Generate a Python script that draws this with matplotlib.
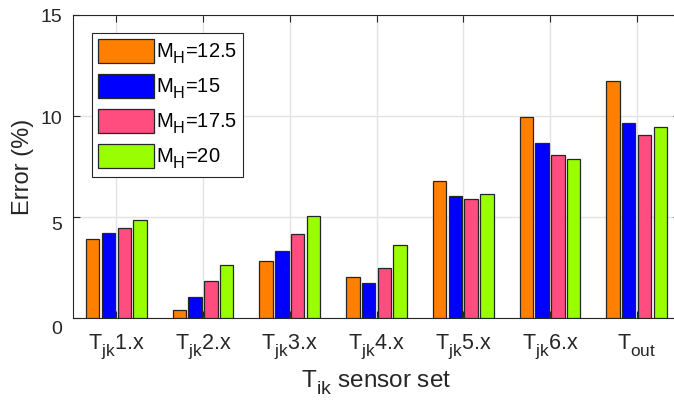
import matplotlib
matplotlib.use("Agg")
import matplotlib.pyplot as plt
import matplotlib._mathtext as _mt
from matplotlib.transforms import ScaledTranslation
import numpy as np

_mt.SHRINK_FACTOR = 0.8
_mt.FontConstantsBase.sub1 = 0.6

plt.rcParams['font.family'] = ['Liberation Sans', 'DejaVu Sans']
plt.rcParams['mathtext.fontset'] = 'custom'
plt.rcParams['mathtext.rm'] = 'Liberation Sans'
plt.rcParams['mathtext.it'] = 'Liberation Sans'
plt.rcParams['mathtext.bf'] = 'Liberation Sans:bold'

categories = [r'T$_\mathrm{jk}$1.x', r'T$_\mathrm{jk}$2.x', r'T$_\mathrm{jk}$3.x',
              r'T$_\mathrm{jk}$4.x', r'T$_\mathrm{jk}$5.x', r'T$_\mathrm{jk}$6.x',
              r'T$_\mathrm{out}$']
series_labels = [r'M$_\mathrm{H}$=12.5', r'M$_\mathrm{H}$=15',
                 r'M$_\mathrm{H}$=17.5', r'M$_\mathrm{H}$=20']
yticks = [0, 5, 10, 15]
mh_12_5 = [3.92, 0.38, 2.80, 2.01, 6.80, 9.94, 11.71]
mh_15 = [4.23, 1.04, 3.32, 1.71, 6.04, 8.68, 9.64]
mh_17_5 = [4.48, 1.81, 4.18, 2.46, 5.89, 8.08, 9.07]
mh_20 = [4.83, 2.61, 5.04, 3.63, 6.15, 7.86, 9.44]
colors = ['#FF8000', '#0000FF', '#FF4D80', '#99FF00']

fig = plt.figure(figsize=(6.74, 4.04), dpi=100)
ax = fig.add_axes([73/674, 1-318/404, (680-73)/674, (318-15)/404])

x = np.arange(1, len(categories)+1)
step = 0.182
width = 0.155
for i, (vals, c, lab) in enumerate(zip([mh_12_5, mh_15, mh_17_5, mh_20], colors, series_labels)):
    ax.bar(x + (i-1.5)*step, vals, width, color=c, edgecolor='#262626', linewidth=0.9,
           label=lab, zorder=3)

ax.set_xlim(0.5, 7.5)
ax.set_ylim(0, 15)
ax.set_yticks(yticks)
ax.set_xticks(x)
ax.set_xticklabels(categories)
ax.tick_params(axis='both', direction='in', length=5, width=0.8, colors='#262626',
               top=True, right=True)
ax.tick_params(axis='x', pad=11, labelsize=15.5)
ax.tick_params(axis='y', labelleft=False)
ax.grid(True, color='#E3E3E3', linewidth=1.0, zorder=0)
ax.set_axisbelow(True)
for s in ax.spines.values():
    s.set_color('#262626')
    s.set_linewidth(0.8)

# y tick labels, drawn as text with the small downward shifts seen in the reference
for yv, dy in zip(yticks, [9, 6, 1, 1]):
    ax.text(0, yv, str(yv), fontsize=14, color='#262626', ha='right', va='center_baseline',
            transform=ax.get_yaxis_transform() +
            ScaledTranslation(-11/100, -dy/100, fig.dpi_scale_trans))

ax.set_ylabel('Error (%)', fontsize=17, color='#262626', labelpad=28)
ax.set_xlabel(r'T$_\mathrm{ik}$ sensor set', fontsize=17.5, color='#262626', labelpad=5)

leg = ax.legend(loc='upper left', bbox_to_anchor=(19/607, 1-18/303), fontsize=14.5,
                handlelength=2.79, handleheight=1.42, labelspacing=0.4,
                handletextpad=0.1, borderpad=0.3, borderaxespad=0,
                fancybox=False, framealpha=1, edgecolor='#262626')
leg.get_frame().set_linewidth(0.8)

fig.savefig('out.png', dpi=100)
